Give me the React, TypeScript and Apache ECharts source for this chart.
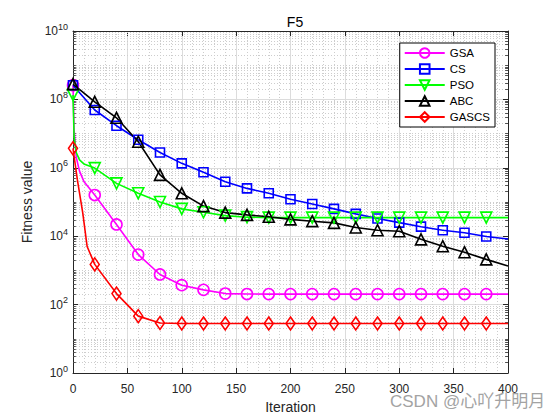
import React, { useEffect, useRef } from 'react';
import * as echarts from 'echarts';

const FONT = '"Liberation Sans", Arial, Helvetica, sans-serif';
const AXIS_COLOR = '#262626';

// x tick labels / y decade range
const xTicks = [0, 50, 100, 150, 200, 250, 300, 350, 400];
const yMin = 1;
const yMax = 1e10;

const seriesNames = ['GSA', 'CS', 'PSO', 'ABC', 'GASCS'];
const seriesColors = ['#ff00ff', '#0000ff', '#00ff00', '#000000', '#ff0000'];

const gsaIter = [0, 1, 3, 6, 10, 20, 40, 60, 80, 100, 120, 140, 160, 180, 200, 220, 240, 260, 280, 300, 320, 340, 360, 380, 400];
const gsaVals = [2.6e8, 1.3e7, 2.0e6, 8.0e5, 4.0e5, 1.6e5, 2.2e4, 2.9e3, 760, 370, 270, 210, 204, 203, 203, 203, 203, 203, 203, 203, 203, 203, 203, 203, 203];

const csIter = [0, 20, 40, 60, 80, 100, 120, 140, 160, 180, 200, 220, 240, 260, 280, 300, 320, 340, 360, 380, 400];
const csVals = [2.6e8, 4.9e7, 1.7e7, 6.6e6, 2.8e6, 1.35e6, 7.4e5, 3.9e5, 2.5e5, 1.8e5, 1.2e5, 8.7e4, 6.3e4, 4.5e4, 3.3e4, 2.5e4, 1.9e4, 1.5e4, 1.26e4, 9.8e3, 8.3e3];

const psoIter = [0, 1, 3, 6, 10, 20, 40, 60, 80, 100, 120, 140, 160, 180, 200, 220, 240, 260, 280, 300, 320, 340, 360, 380, 400];
const psoVals = [1.35e8, 7.9e6, 2.8e6, 1.7e6, 1.3e6, 9.8e5, 3.5e5, 1.8e5, 1.0e5, 6.3e4, 5.0e4, 4.0e4, 3.6e4, 3.5e4, 3.5e4, 3.5e4, 3.5e4, 3.5e4, 3.5e4, 3.5e4, 3.5e4, 3.5e4, 3.5e4, 3.5e4, 3.5e4];

const abcIter = [0, 20, 40, 60, 80, 100, 120, 140, 160, 180, 200, 220, 240, 260, 280, 300, 320, 340, 360, 380, 400];
const abcVals = [2.8e8, 8.5e7, 2.9e7, 5.8e6, 6.2e5, 1.8e5, 7.6e4, 4.9e4, 4.2e4, 3.7e4, 3.1e4, 2.75e4, 2.45e4, 1.8e4, 1.5e4, 1.4e4, 8.1e3, 5.1e3, 3.4e3, 2.1e3, 1.35e3];

const gascsIter = [0, 4, 9, 13, 20, 40, 60, 80, 100, 120, 140, 160, 180, 200, 220, 240, 260, 280, 300, 320, 340, 360, 380, 400];
const gascsVals = [3.7e6, 4.5e5, 4.7e4, 5.0e3, 1.5e3, 210, 46, 29, 28, 28, 28, 28, 28, 28, 28, 28, 28, 28, 28, 28, 28, 28, 28, 28];

const markerEvery = 20;
const lastIter = 400;

function buildSeries(
  name: string,
  iters: number[],
  vals: number[],
  color: string,
  symbol: string,
  size: number | number[],
  rotate: number
) {
  return {
    name,
    type: 'line',
    data: iters.map((x, i) =>
      x % markerEvery === 0 && x < lastIter
        ? { value: [x, vals[i]] }
        : { value: [x, vals[i]], symbol: 'none' }
    ),
    symbol,
    symbolSize: size,
    symbolRotate: rotate,
    showSymbol: true,
    showAllSymbol: true,
    lineStyle: { color, width: 1.6 },
    itemStyle: { color: 'rgba(0,0,0,0)', borderColor: color, borderWidth: 1.6 },
    emphasis: { disabled: true },
    silent: true,
    z: 3,
  };
}

export default function App() {
  const ref = useRef<HTMLDivElement>(null);

  useEffect(() => {
    if (!ref.current) return;
    const chart = echarts.init(ref.current, undefined, { renderer: 'svg' });

    const minorY: number[] = [];
    for (let n = 0; n < 10; n++) {
      for (let k = 1; k <= 9; k++) {
        if (k === 1 && n % 2 === 0) continue;
        minorY.push(k * Math.pow(10, n));
      }
    }
    const minorTickLen = 2.6;
    const minorTickData: any[] = [];
    minorY.forEach((v) => {
      minorTickData.push([{ coord: [0, v] }, { coord: [minorTickLen, v] }]);
      minorTickData.push([{ coord: [lastIter - minorTickLen, v] }, { coord: [lastIter, v] }]);
    });

    const labelRich = {
      b: { fontSize: 12, color: AXIS_COLOR, fontFamily: FONT },
      s: { fontSize: 9, color: AXIS_COLOR, fontFamily: FONT, padding: [0, 0, 9, 0] },
    };

    const gridDot = { color: '#cdcdcd', type: [1, 2], width: 1 };

    const series: any[] = [
      {
        name: '_grid',
        type: 'line',
        data: [],
        silent: true,
        z: 1,
        markLine: {
          silent: true,
          z: 1,
          symbol: ['none', 'none'],
          label: { show: false },
          animation: false,
          lineStyle: gridDot,
          data: minorY.map((v) => ({ yAxis: v })),
        },
      },
      {
        name: '_ticks',
        type: 'line',
        data: [],
        silent: true,
        z: 2,
        markLine: {
          silent: true,
          z: 2,
          symbol: ['none', 'none'],
          label: { show: false },
          animation: false,
          lineStyle: { color: AXIS_COLOR, type: 'solid', width: 0.8 },
          data: minorTickData,
        },
      },
      buildSeries(seriesNames[0], gsaIter, gsaVals, seriesColors[0], 'circle', 11, 0),
      buildSeries(seriesNames[1], csIter, csVals, seriesColors[1], 'rect', 9, 0),
      buildSeries(seriesNames[2], psoIter, psoVals, seriesColors[2], 'triangle', 11, 180),
      buildSeries(seriesNames[3], abcIter, abcVals, seriesColors[3], 'triangle', 11, 0),
      buildSeries(seriesNames[4], gascsIter, gascsVals, seriesColors[4], 'diamond', [9, 13], 0),
    ];

    chart.setOption({
      animation: false,
      backgroundColor: '#ffffff',
      textStyle: { fontFamily: FONT },
      title: {
        text: 'F5',
        left: 290,
        textAlign: 'center',
        top: 10,
        textStyle: { fontSize: 14, fontWeight: 'normal', color: '#000', fontFamily: FONT },
      },
      grid: { left: 73, right: 52, top: 31, bottom: 47, containLabel: false },
      legend: {
        data: seriesNames,
        orient: 'vertical',
        right: 65,
        top: 43,
        z: 10,
        backgroundColor: '#ffffff',
        borderColor: '#000000',
        borderWidth: 1,
        padding: [4, 5, 4, 4],
        itemWidth: 40,
        itemHeight: 12,
        itemGap: 4,
        lineStyle: { type: 'solid' },
        textStyle: { fontSize: 11.5, color: '#000', fontFamily: FONT },
        selectedMode: false,
      },
      xAxis: [
        {
          type: 'value',
          min: xTicks[0],
          max: xTicks[xTicks.length - 1],
          interval: xTicks[1] - xTicks[0],
          name: 'Iteration',
          nameLocation: 'middle',
          nameGap: 26,
          nameTextStyle: { fontSize: 14, color: AXIS_COLOR, fontFamily: FONT },
          axisLine: { show: true, lineStyle: { color: AXIS_COLOR, width: 1 } },
          axisTick: { show: true, inside: true, length: 5, lineStyle: { color: AXIS_COLOR } },
          axisLabel: { fontSize: 12, color: AXIS_COLOR, margin: 10, fontFamily: FONT },
          splitLine: { show: true, lineStyle: { color: '#dcdcdc', width: 1 } },
          minorTick: { show: false, splitNumber: 5 },
          minorSplitLine: { show: true, lineStyle: gridDot },
        },
        {
          type: 'value',
          position: 'top',
          min: xTicks[0],
          max: xTicks[xTicks.length - 1],
          interval: xTicks[1] - xTicks[0],
          axisLine: { show: true, onZero: false, lineStyle: { color: AXIS_COLOR, width: 1 } },
          axisTick: { show: true, inside: true, length: 5, lineStyle: { color: AXIS_COLOR } },
          axisLabel: { show: false },
          splitLine: { show: false },
        },
      ],
      yAxis: [
        {
          type: 'log',
          logBase: 10,
          min: yMin,
          max: yMax,
          interval: 2,
          name: 'Fitness value',
          nameLocation: 'middle',
          nameGap: 32,
          nameTextStyle: { fontSize: 14, color: AXIS_COLOR, fontFamily: FONT },
          axisLine: { show: true, lineStyle: { color: AXIS_COLOR, width: 1 } },
          axisTick: { show: true, inside: true, length: 5, lineStyle: { color: AXIS_COLOR } },
          axisLabel: {
            margin: 5,
            formatter: (v: number) => `{b|10}{s|${Math.round(Math.log10(v))}}`,
            rich: labelRich,
          },
          splitLine: { show: true, lineStyle: { color: '#dcdcdc', width: 1 } },
        },
        {
          type: 'log',
          logBase: 10,
          position: 'right',
          min: yMin,
          max: yMax,
          interval: 2,
          axisLine: { show: true, onZero: false, lineStyle: { color: AXIS_COLOR, width: 1 } },
          axisTick: { show: true, inside: true, length: 5, lineStyle: { color: AXIS_COLOR } },
          axisLabel: { show: false },
          splitLine: { show: false },
        },
      ],
      graphic: [
        {
          type: 'text',
          left: 390,
          top: 393,
          z: 20,
          style: {
            text: 'CSDN @心吖升明月',
            fill: '#a3a3a3',
            font: `17px ${FONT}, "Noto Sans CJK SC"`,
          },
          silent: true,
        },
      ],
      series,
    });

    return () => chart.dispose();
  }, []);

  return (
    <div
      ref={ref}
      style={{ position: 'fixed', left: 0, top: 0, width: 560, height: 420 }}
    />
  );
}
